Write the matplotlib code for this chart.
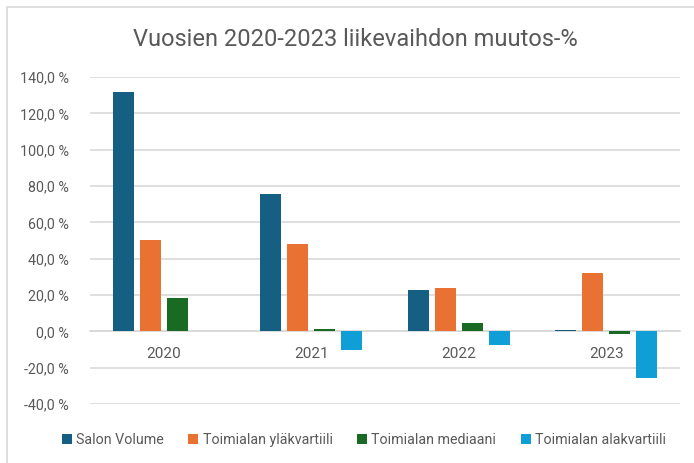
import matplotlib
matplotlib.use("Agg")
import matplotlib.pyplot as plt
from matplotlib.patches import Rectangle
import numpy as np

years = ["2020", "2021", "2022", "2023"]
series_names = ["Salon Volume", "Toimialan yläkvartiili", "Toimialan mediaani", "Toimialan alakvartiili"]
salon_volume = [132.0, 75.5, 23.0, 0.8]
ylakvartiili = [50.5, 48.0, 24.0, 32.3]
mediaani = [18.2, 1.4, 4.6, -1.6]
alakvartiili = [0.0, -10.5, -7.3, -25.5]
colors = ["#156082", "#E97132", "#196B24", "#0F9ED5"]
yticks = [-40, -20, 0, 20, 40, 60, 80, 100, 120, 140]

plt.rcParams['font.family'] = ['Roboto', 'DejaVu Sans']
W, H = 694, 463
fig = plt.figure(figsize=(W / 100, H / 100), dpi=100)
ax = fig.add_axes([90 / W, 1 - 404 / H, 590 / W, 327 / H])

text_col = "#595959"
grid_col = "#D9D9D9"

x = np.arange(len(years))
pitch = 27 / 147.5
width = 21 / 147.5
all_series = [salon_volume, ylakvartiili, mediaani, alakvartiili]
for i, (vals, name, c) in enumerate(zip(all_series, series_names, colors)):
    ax.bar(x + (i - 1.5) * pitch, vals, width=width, color=c, label=name, zorder=3)

ax.set_xlim(-0.5, 3.5)
ax.set_ylim(-40, 140)
ax.set_yticks(yticks)
ax.set_yticklabels([f"{v:.1f}".replace(".", ",") + " %" for v in yticks])
ax.yaxis.grid(True, color=grid_col, linewidth=1.2, zorder=0)
ax.set_axisbelow(True)
for s in ["top", "right", "left"]:
    ax.spines[s].set_visible(False)
ax.spines["bottom"].set_position(("data", 0))
ax.spines["bottom"].set_color(grid_col)
ax.spines["bottom"].set_linewidth(1.2)
ax.set_xticks(x)
ax.set_xticklabels(years)
ax.tick_params(axis="x", length=0, pad=11, labelsize=11, labelcolor=text_col)
ax.tick_params(axis="y", length=0, pad=15, labelsize=10.3, labelcolor=text_col)

fig.text(355 / W, 1 - 40 / H, "Vuosien 2020-2023 liikevaihdon muutos-%", ha="center", va="center",
         fontsize=17, color=text_col)

leg = fig.legend(loc="center", bbox_to_anchor=(364 / W, 1 - 440 / H), ncol=4, frameon=False,
                 fontsize=10.3, handlelength=0.7, handleheight=0.7, handletextpad=0.3,
                 columnspacing=1.7, labelcolor=text_col)

fig.patches.append(Rectangle((7 / W, -0.1), 1.2, 1 - 7 / H + 0.1, transform=fig.transFigure,
                             fill=False, edgecolor=grid_col, linewidth=1.2))

fig.savefig("out.png", dpi=100)
